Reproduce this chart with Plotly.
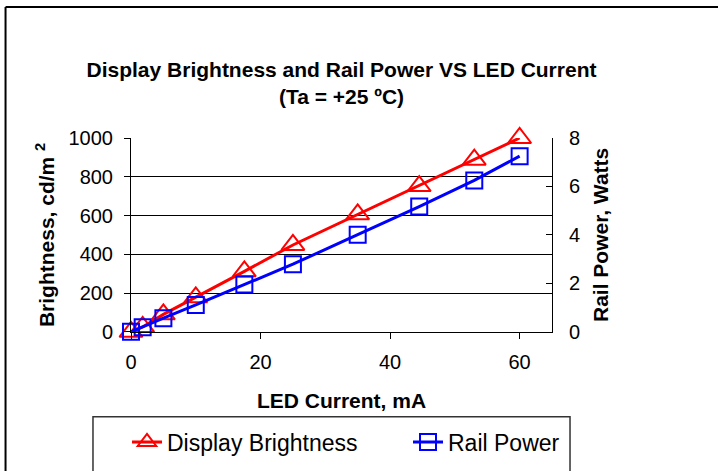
import plotly.graph_objects as go

# Data
led_current_ma = [0, 1.8, 5, 10, 17.5, 25, 35, 44.5, 53, 60]
brightness_cd_m2 = [0, 25, 90, 178, 312, 448, 606, 752, 888, 1000]
rail_power_w = [0, 0.19, 0.56, 1.11, 1.95, 2.79, 4.01, 5.17, 6.25, 7.25]

x_ticks = [0, 20, 40, 60]
y1_ticks = [0, 200, 400, 600, 800, 1000]
y2_ticks = [0, 2, 4, 6, 8]

FONT = "Arial, Liberation Sans, sans-serif"
W, H = 718, 471

fig = go.Figure()
fig.add_trace(go.Scatter(
    x=led_current_ma, y=brightness_cd_m2, name="Display Brightness",
    mode="lines+markers", cliponaxis=False,
    line=dict(color="#FF0000", width=3),
    marker=dict(symbol="triangle-up-open", size=20, color="#FF0000",
                line=dict(color="#FF0000", width=2)),
    yaxis="y", legend="legend"))
fig.add_trace(go.Scatter(
    x=led_current_ma, y=rail_power_w, name="Rail Power",
    mode="lines+markers", cliponaxis=False,
    line=dict(color="#0000FF", width=3),
    marker=dict(symbol="square-open", size=16, color="#0000FF",
                line=dict(color="#0000FF", width=2)),
    yaxis="y2", legend="legend2"))

legend_common = dict(orientation="h", xref="container", yref="container",
                     xanchor="left", yanchor="middle", y=1 - 442 / H,
                     bgcolor="rgba(0,0,0,0)", borderwidth=0,
                     font=dict(size=23, family=FONT))

# plot area: x 131..552, y 138..334 px
fig.update_layout(
    width=W, height=H,
    margin=dict(l=131, r=166, t=138, b=137),
    paper_bgcolor="white", plot_bgcolor="white",
    font=dict(family=FONT, color="black", size=20),
    showlegend=True,
    title=dict(text="<b>Display Brightness and Rail Power VS LED Current<br>(Ta = +25 ºC)</b>",
               x=0.5, xref="paper", xanchor="center",
               y=1 - 77 / H, yref="container", yanchor="middle",
               font=dict(family=FONT, size=21, color="black")),
    xaxis=dict(range=[0, 65], tickvals=x_ticks, ticks="outside", ticklen=6,
               tickcolor="black", showline=True, linecolor="black", linewidth=1,
               showgrid=False, zeroline=False, ticklabelstandoff=6,
               tickfont=dict(size=20),
               title=dict(text="<b>LED Current, mA</b>", standoff=21,
                          font=dict(size=21))),
    yaxis=dict(range=[0, 1000], tickvals=y1_ticks, ticks="outside", ticklen=6,
               tickcolor="black", showline=True, linecolor="black", linewidth=1,
               showgrid=True, gridcolor="black", gridwidth=1, zeroline=False,
               ticklabelstandoff=7, tickfont=dict(size=20),
               title=dict(text="<b>Brightness, cd/m <sup>2</sup></b>", standoff=8,
                          font=dict(size=21))),
    yaxis2=dict(range=[0, 8], tickvals=y2_ticks, overlaying="y", side="right",
                ticks="inside", ticklen=6, tickcolor="black",
                showline=True, linecolor="black", linewidth=1,
                showgrid=False, zeroline=False, ticklabelstandoff=12,
                tickfont=dict(size=20),
                title=dict(text="<b>Rail Power, Watts</b>", standoff=14,
                           font=dict(size=21))),
    legend=dict(x=127 / W, **legend_common),
    legend2=dict(x=408 / W, **legend_common),
    shapes=[
        # outer frame (top and left edges visible)
        dict(type="line", xref="paper", yref="paper", x0=-0.298, x1=1.45,
             y0=1.676, y1=1.676, line=dict(color="black", width=2)),
        dict(type="line", xref="paper", yref="paper", x0=-0.298, x1=-0.298,
             y0=1.676, y1=-0.76, line=dict(color="black", width=2)),
        # legend box
        dict(type="rect", xref="paper", yref="paper", x0=-0.0903, x1=1.0428,
             y0=-0.4388, y1=-0.76, line=dict(color="#333333", width=1.5),
             fillcolor="rgba(0,0,0,0)"),
    ],
)

fig.write_html("out.html",
               config={"displayModeBar": False},
               post_script="document.body.style.margin='0px';"
                           "document.body.style.overflow='hidden';")
